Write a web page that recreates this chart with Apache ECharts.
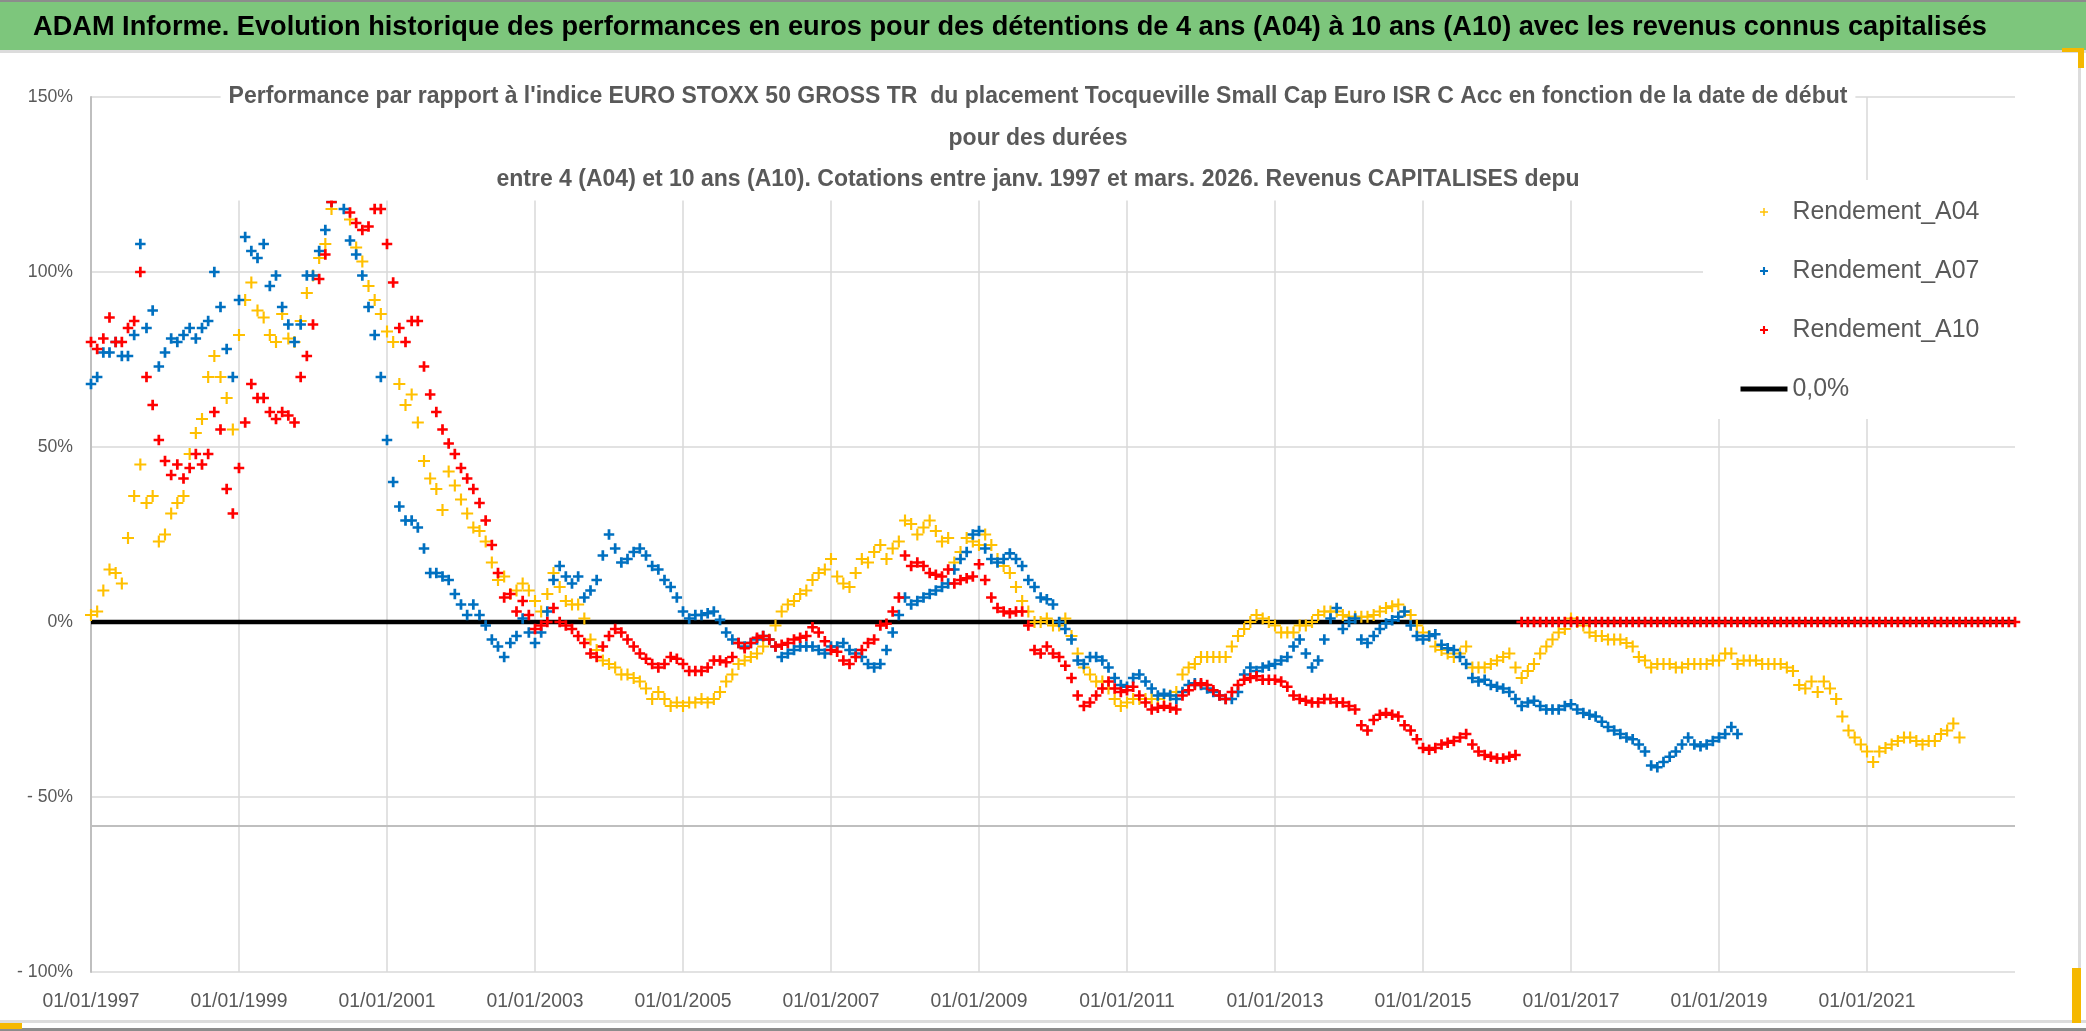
<!DOCTYPE html>
<html><head><meta charset="utf-8">
<script src="https://cdn.jsdelivr.net/npm/echarts@6/dist/echarts.min.js"></script>
<style>html,body{margin:0;padding:0;background:#fff;overflow:hidden}#c{width:2086px;height:1031px}</style>
</head><body><div id="c"></div>
<script>
// ---------- DATA (monthly readings, first value = Jan 1997) ----------
const startYear = 1997;
const a04 = [
 2,3,9,15,14,11,24,36,45,34,36,23,
 25,31,34,36,48,54,58,70,76,70,64,55,
 82,92,97,89,87,82,80,88,81,80,86,94,
 99,104,108,118,128,130,115,107,103,96,92,88,
 83,80,68,62,65,57,46,41,38,32,43,39,
 35,31,27,26,23,17,12,13,8,9,11,9,
 6,3,8,14,10,6,5,5,1,-5,-8,-11,
 -12,-13,-15,-15,-16,-17,-19,-22,-20,-22,-24,-23,
 -24,-23,-23,-22,-23,-22,-20,-17,-15,-12,-11,-10,
 -9,-7,-5,-1,3,5,6,8,9,12,14,15,
 18,13,11,10,14,18,17,20,22,18,21,23,
 29,28,25,27,29,26,23,24,17,20,24,23,
 22,25,22,18,16,14,10,6,3,0,0,1,
 -1,-1,1,-4,-9,-13,-15,-17,-17,-19,-22,-24,
 -23,-22,-22,-22,-22,-22,-21,-21,-20,-15,-13,-12,
 -10,-10,-10,-10,-10,-7,-4,-2,0,2,1,0,
 -1,-3,-3,-3,-1,-1,0,2,3,3,3,2,
 1.5,1.5,1.5,1.5,2,3,4,4.5,5,3,2,-1,
 -3,-4,-7,-8,-9,-10,-9,-7,-13,-13,-13,-12,
 -11,-10,-9,-13,-16,-14,-12,-9,-7,-5,-3,-2,
 1,0,-1,-3,-4,-4,-5,-5,-5,-6,-7,-10,
 -11,-13,-12,-12,-12,-13,-13,-12,-12,-12,-12,-11,
 -11,-9,-9,-12,-11,-11,-11,-12,-12,-12,-12,-13,
 -14,-18,-19,-17,-20,-17,-19,-22,-27,-31,-33,-35,
 -37,-40,-37,-36,-35,-34,-33,-33,-34,-35,-34,-34,
 -32,-31,-29,-33
];
const a07 = [
 68,70,77,77,80,76,76,82,108,84,89,73,
 77,81,80,82,84,81,84,86,100,90,78,70,
 92,110,106,104,108,96,99,90,85,80,85,99,
 99,106,112,120,125,118,109,105,99,90,82,70,
 52,40,33,29,29,27,21,14,14,13,12,8,
 5,2,5,2,-1,-5,-7,-10,-6,-4,1,-3,
 -6,-3,3,12,16,13,11,13,7,9,12,19,
 25,21,17,18,20,21,19,16,15,12,10,7,
 3,1,2,2,2.5,3,0.6,-3,-5,-6,-7,-6,
 -5,-4,-5,-7,-10,-9,-8,-7,-7,-7,-8,-9,
 -7,-7,-6,-8,-9,-10,-12,-13,-12,-8,-3,2,
 7,5,6,7,8,9,10,11,15,18,20,25,
 26,21,18,17,18,19.6,18,16,12,10,7,6.5,
 5,0,-2,-5,-11,-12,-10,-10,-11,-13,-16,-18,
 -18.5,-16,-15,-17,-19,-21,-20.5,-21,-22,-20,-18,-17.5,
 -18,-19,-20,-21,-22,-22,-20,-15,-13,-14,-13,-12.5,
 -12,-11,-10,-7,-5,-9,-13,-11,-5,1,4,-2,
 0,1,-5,-6,-4,-2,-0.4,0.5,1.5,3,-1,-4,
 -5,-4,-3.5,-6.5,-7.5,-8,-10,-12,-16,-17,-16.5,-18,
 -18.5,-19,-20,-22,-24,-23,-22.5,-24,-25,-25,-25,-24,
 -23.5,-25,-26,-26.5,-27,-28.5,-30,-31,-32,-33,-33.5,-35,
 -37,-41,-41.5,-40,-38.5,-37,-35,-33,-35,-35.5,-35,-34,
 -33,-32,-30,-32
];
const a10 = [
 80,78,81,87,80,80,84,86,100,70,62,52,
 46,42,45,41,44,48,45,48,60,55,38,31,
 44,57,68,64,64,60,58,60,59,57,70,76,
 85,98,105,120,128,125,117,114,112,113,118,118,
 108,97,84,80,86,86,73,65,60,55,51,48,
 44,41,38,34,29,22,14,7,8,3,6,2,
 -2,-1,0,4,0,-1,-2,-4,-6,-9,-10,-7,
 -4,-2,-3,-5,-7,-9,-10.5,-12,-13,-12,-10,-10.5,
 -12,-14,-14,-14,-13,-11,-11,-11.5,-10,-6,-7.5,-6,
 -4.5,-4,-5,-7,-6.5,-6,-5,-4.5,-4,-1.5,-3,-5.5,
 -8,-8.5,-11,-12,-10,-8,-6,-5,-1,-0.5,3,7,
 19,16,17,16,14,13.5,13,15,11,12,12.5,13,
 16.5,12,7,4,3,2.5,3,3,-1,-8,-9,-7,
 -9,-10,-12.5,-16,-21,-24,-23,-21,-19,-17,-19,-20,
 -19.5,-18.5,-21,-23,-25,-24.5,-24,-24.5,-25,-21,-19.5,-18,
 -17.5,-18,-19.5,-21,-22,-20,-18,-16.5,-16,-15.5,-16.5,-16.5,
 -16.5,-17,-18.5,-21,-22,-22.5,-23,-23,-22,-22,-23,-23,
 -24,-25,-29.5,-31,-28,-26.5,-26,-26.5,-27,-29.5,-31,-33.5,
 -36,-36.5,-36,-35,-34.5,-34,-33,-32,-35,-37,-38,-38.5,
 -39,-39,-38.5,-38,0,0,0,0,0,0,0,0,
 0,0,0,0,0,0,0,0,0,0,0,0,
 0,0,0,0,0,0,0,0,0,0,0,0,
 0,0,0,0,0,0,0,0,0,0,0,0,
 0,0,0,0,0,0,0,0,0,0,0,0,
 0,0,0,0,0,0,0,0,0,0,0,0,
 0,0,0,0,0,0,0,0,0,0,0,0,
 0
];
const zeroLine = [[1997, 0], [2023, 0]];
const seriesNames = ['Rendement_A04', 'Rendement_A07', 'Rendement_A10', '0,0%'];
const yTicks = {min: -100, max: 150, step: 50};
const xTicks = {min: 1997, max: 2023, step: 2};

const mainTitle = "ADAM Informe. Evolution historique des performances en euros pour des détentions de 4 ans (A04) à 10 ans (A10) avec les revenus connus capitalisés";
const subLines = [
 "Performance par rapport à l'indice EURO STOXX 50 GROSS TR  du placement Tocqueville Small Cap Euro ISR C Acc en fonction de la date de début",
 "pour des durées",
 "entre 4 (A04) et 10 ans (A10). Cotations entre janv. 1997 et mars. 2026. Revenus CAPITALISES depu"
];

// ---------- STYLE ----------
const FONT = "'Liberation Sans', Arial, sans-serif";
const cv = document.createElement('canvas').getContext('2d');
function fit(text, weight, target) {
  cv.font = weight + ' 100px ' + FONT;
  return 100 * target / cv.measureText(text).width;
}
const titleSize = fit(mainTitle, 'bold', 1955);
const subSize = fit(subLines[0], 'bold', 1620);
const legendSize = fit('Rendement_A04', 'normal', 187);
const xLabSize = fit('01/01/1997', 'normal', 97);
const yLabSize = fit('- 100%', 'normal', 56);

const plusThin = 'path://M4.1,0H5.9V4.1H10V5.9H5.9V10H4.1V5.9H0V4.1H4.1Z';
const plusBold = 'path://M3.7,0H6.3V3.7H10V6.3H6.3V10H3.7V6.3H0V3.7H3.7Z';

function toPoints(vals) { return vals.map((v, i) => [startYear + i / 12, v]); }

const chart = echarts.init(document.getElementById('c'), null, {renderer: 'canvas'});
chart.setOption({
  animation: false,
  backgroundColor: '#fff',
  title: [
    {text: mainTitle, left: 1010, top: 8, textAlign: 'center', textVerticalAlign: 'top', padding: 0,
     textStyle: {fontFamily: FONT, fontWeight: 'bold', fontSize: titleSize, color: '#000', lineHeight: 40}},
    {text: subLines.join('\n'), left: 1030, top: 74, textAlign: 'center', textVerticalAlign: 'top',
     padding: [2, 8, 0, 8], backgroundColor: '#fff',
     textStyle: {fontFamily: FONT, fontWeight: 'bold', fontSize: subSize, color: '#595959', lineHeight: 41.5}}
  ],
  legend: {
    orient: 'vertical', left: 1703, top: 180, padding: [18, 50, 16, 35], backgroundColor: '#fff',
    itemWidth: 47, itemHeight: 8, itemGap: 31, itemTextGap: 5, selectedMode: false,
    textStyle: {fontFamily: FONT, fontSize: legendSize, color: '#595959', lineHeight: 28},
    data: [
      {name: seriesNames[0], icon: plusThin},
      {name: seriesNames[1], icon: plusBold},
      {name: seriesNames[2], icon: plusBold},
      {name: seriesNames[3], itemStyle: {opacity: 0}, lineStyle: {width: 5, color: '#000'}}
    ]
  },
  grid: {left: 91, right: 71, top: 97, bottom: 59, containLabel: false},
  xAxis: {
    type: 'value', min: xTicks.min, max: xTicks.max, interval: xTicks.step,
    axisLine: {show: false, onZero: false}, axisTick: {show: false},
    axisLabel: {formatter: v => '01/01/' + v, margin: 20, fontSize: xLabSize, fontFamily: FONT, color: '#595959', showMaxLabel: false},
    splitLine: {show: true, showMaxLine: false, lineStyle: {color: '#d9d9d9', width: 1.5}}
  },
  yAxis: {
    type: 'value', min: yTicks.min, max: yTicks.max, interval: yTicks.step,
    axisLine: {show: true, lineStyle: {color: '#bfbfbf', width: 2}}, axisTick: {show: false},
    axisLabel: {formatter: v => (v < 0 ? '- ' + (-v) : v) + '%', margin: 18, fontSize: yLabSize, fontFamily: FONT, color: '#595959'},
    splitLine: {show: true, lineStyle: {color: '#d9d9d9', width: 1.5}}
  },
  series: [
    {name: seriesNames[3], type: 'line', data: zeroLine, symbol: 'none', silent: true, z: 1,
     lineStyle: {color: '#000', width: 4.5}, itemStyle: {color: '#000'},
     markLine: {silent: true, symbol: 'none', label: {show: false}, animation: false,
       lineStyle: {color: '#bfbfbf', width: 2, type: 'solid'}, data: [{yAxis: -58.3}]}},
    {name: seriesNames[0], type: 'scatter', data: toPoints(a04), symbol: plusThin, symbolSize: 12, z: 2,
     itemStyle: {color: '#FFC000', opacity: 1}},
    {name: seriesNames[1], type: 'scatter', data: toPoints(a07), symbol: plusBold, symbolSize: 10.5, z: 3,
     itemStyle: {color: '#0070C0', opacity: 1}},
    {name: seriesNames[2], type: 'scatter', data: toPoints(a10), symbol: plusBold, symbolSize: 10.5, z: 4,
     itemStyle: {color: '#FF0000', opacity: 1}}
  ],
  graphic: [
    {type: 'rect', shape: {x: 0, y: 0, width: 2086, height: 50}, style: {fill: '#7dc67c'}, z: -1},
    {type: 'rect', shape: {x: 0, y: 0, width: 2086, height: 2}, style: {fill: '#8c8c8c'}, z: -1},
    {type: 'rect', shape: {x: 0, y: 50, width: 2086, height: 3}, style: {fill: '#dcdcdc'}, z: -1},
    {type: 'rect', shape: {x: 0, y: 1020, width: 2086, height: 3}, style: {fill: '#dcdcdc'}, z: -1},
    {type: 'rect', shape: {x: 0, y: 1028, width: 2086, height: 3}, style: {fill: '#8c8c8c'}, z: -1},
    {type: 'rect', shape: {x: 2078, y: 53, width: 3, height: 968}, style: {fill: '#dcdcdc'}, z: -1},
    {type: 'rect', shape: {x: 0, y: 1023, width: 22, height: 6}, style: {fill: '#f5b800'}},
    {type: 'rect', shape: {x: 2062, y: 48, width: 22, height: 4}, style: {fill: '#f5b800'}},
    {type: 'rect', shape: {x: 2078, y: 48, width: 6, height: 20}, style: {fill: '#f5b800'}},
    {type: 'rect', shape: {x: 2072, y: 968, width: 9, height: 55}, style: {fill: '#f5b800'}}
  ]
});
</script></body></html>
